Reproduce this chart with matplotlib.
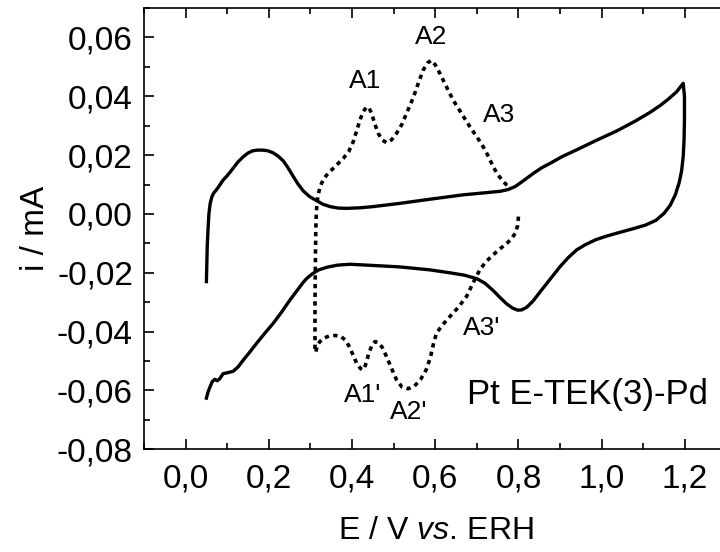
import numpy as np
import matplotlib
matplotlib.use('Agg')
import matplotlib.pyplot as plt
from matplotlib.ticker import FuncFormatter, MultipleLocator

plt.rcParams['font.family'] = ['Liberation Sans', 'DejaVu Sans']
plt.rcParams['mathtext.fontset'] = 'custom'
plt.rcParams['mathtext.rm'] = 'Liberation Sans'
plt.rcParams['mathtext.it'] = 'Liberation Sans:italic'

# Pt E-TEK baseline CV (solid), sweep 0.05 -> 1.2 -> 0.05 V
pt_E = [0.050, 0.051, 0.052, 0.054, 0.056, 0.059, 0.063, 0.068, 0.074, 0.082, 0.090, 0.100,
        0.114, 0.126, 0.139, 0.150, 0.160, 0.171, 0.185, 0.197, 0.210, 0.222, 0.235, 0.247,
        0.259, 0.270, 0.283, 0.298, 0.315, 0.330, 0.347, 0.367, 0.387, 0.420, 0.451, 0.515,
        0.587, 0.667, 0.720, 0.756, 0.775, 0.792, 0.812, 0.836, 0.856, 0.876, 0.905, 0.940,
        0.990, 1.036, 1.080, 1.116, 1.140, 1.160, 1.180, 1.196,
        1.199, 1.199, 1.198, 1.196, 1.192, 1.186, 1.177, 1.165, 1.150, 1.130, 1.105, 1.076,
        1.040, 1.010, 0.985, 0.960, 0.940, 0.920, 0.900, 0.876, 0.852, 0.835, 0.820, 0.808,
        0.798, 0.786, 0.772, 0.755, 0.739, 0.720, 0.700, 0.670, 0.635, 0.587, 0.515, 0.450,
        0.395, 0.365, 0.340, 0.320, 0.305, 0.292, 0.283, 0.268, 0.251, 0.231, 0.211, 0.190,
        0.171, 0.155, 0.139, 0.126, 0.114, 0.100, 0.090, 0.082, 0.076, 0.070, 0.064, 0.058,
        0.054, 0.050]
pt_i = [-0.0230, -0.0170, -0.0110, -0.0050, 0.0000, 0.0035, 0.0058, 0.0072, 0.0082, 0.0098,
        0.0115, 0.0130, 0.0155, 0.0177, 0.0195, 0.0207, 0.0214, 0.0217, 0.0217, 0.0215,
        0.0208, 0.0197, 0.0180, 0.0155, 0.0127, 0.0102, 0.0078, 0.0059, 0.0045, 0.0033,
        0.0025, 0.0020, 0.0019, 0.0021, 0.0025, 0.0036, 0.0050, 0.0065, 0.0072, 0.0077,
        0.0083, 0.0093, 0.0113, 0.0138, 0.0157, 0.0172, 0.0195, 0.0218, 0.0252, 0.0282,
        0.0315, 0.0345, 0.0368, 0.0390, 0.0415, 0.0444,
        0.0400, 0.0320, 0.0250, 0.0195, 0.0145, 0.0105, 0.0065, 0.0030, 0.0002, -0.0022,
        -0.0038, -0.0050, -0.0064, -0.0076, -0.0088, -0.0105, -0.0122, -0.0148, -0.0179,
        -0.0222, -0.0265, -0.0296, -0.0317, -0.0326, -0.0327, -0.0320, -0.0306, -0.0283,
        -0.0260, -0.0236, -0.0220, -0.0208, -0.0200, -0.0190, -0.0180, -0.0175, -0.0171,
        -0.0174, -0.0181, -0.0190, -0.0203, -0.0218, -0.0232, -0.0260, -0.0292, -0.0333,
        -0.0371, -0.0406, -0.0439, -0.0468, -0.0496, -0.0520, -0.0535, -0.0540, -0.0543,
        -0.0560, -0.0567, -0.0562, -0.0570, -0.0590, -0.0605, -0.0626]

# Pd deposit CV (dotted), 0.80 -> 0.31 -> 0.78 V
pd_E = [0.800, 0.798, 0.792, 0.783, 0.772, 0.756, 0.739, 0.722, 0.707, 0.690, 0.675, 0.655,
        0.635, 0.617, 0.603, 0.596, 0.588, 0.578, 0.565, 0.550, 0.535, 0.520, 0.507, 0.495,
        0.483, 0.472, 0.462, 0.455, 0.448, 0.440, 0.432, 0.426, 0.420, 0.411, 0.402, 0.395,
        0.385, 0.373, 0.360, 0.345, 0.332, 0.322, 0.316, 0.313, 0.311,
        0.311, 0.312, 0.313, 0.314, 0.316, 0.319, 0.324, 0.331, 0.339, 0.347, 0.362, 0.379,
        0.392, 0.403, 0.411, 0.419, 0.427, 0.435, 0.441, 0.447, 0.455, 0.463, 0.472, 0.483,
        0.495, 0.507, 0.520, 0.531, 0.547, 0.560, 0.571, 0.582, 0.591, 0.600, 0.611, 0.627,
        0.643, 0.663, 0.683, 0.700, 0.715, 0.728, 0.739, 0.750, 0.762, 0.772, 0.780]
pd_i = [-0.0009, -0.0040, -0.0066, -0.0085, -0.0100, -0.0118, -0.0139, -0.0162, -0.0190,
        -0.0237, -0.0281, -0.0318, -0.0349, -0.0378, -0.0405, -0.0440, -0.0490, -0.0530,
        -0.0562, -0.0585, -0.0594, -0.0588, -0.0564, -0.0525, -0.0485, -0.0452, -0.0436,
        -0.0434, -0.0445, -0.0475, -0.0515, -0.0530, -0.0525, -0.0507, -0.0478, -0.0455,
        -0.0430, -0.0416, -0.0413, -0.0415, -0.0422, -0.0435, -0.0450, -0.0468, -0.0470,
        -0.0300, -0.0150, -0.0050, 0.0000, 0.0040, 0.0068, 0.0095, 0.0117, 0.0132, 0.0144,
        0.0165, 0.0189, 0.0212, 0.0246, 0.0282, 0.0319, 0.0348, 0.0364, 0.0360, 0.0342,
        0.0305, 0.0274, 0.0252, 0.0242, 0.0252, 0.0274, 0.0305, 0.0342, 0.0395, 0.0447,
        0.0489, 0.0514, 0.0522, 0.0507, 0.0478, 0.0432, 0.0387, 0.0342, 0.0297, 0.0262,
        0.0229, 0.0195, 0.0161, 0.0135, 0.0112, 0.0098, 0.0088]

peak_labels = ['A1', 'A2', 'A3', "A1'", "A2'", "A3'"]
peak_E = [0.431, 0.591, 0.753, 0.426, 0.536, 0.711]
peak_i = [0.0452, 0.0600, 0.0336, -0.0615, -0.0674, -0.0387]

fig = plt.figure(figsize=(7.2, 5.52), dpi=100)
ax = fig.add_axes([0.2, 0.186, 0.809, 0.7995])

ax.plot(pt_E, pt_i, color='black', lw=2.4, solid_joinstyle='round')
ax.plot(pd_E, pd_i, color='black', lw=2.6, linestyle=(0, (1.2, 1.2)))

for lab, e, i in zip(peak_labels, peak_E, peak_i):
    ax.text(e, i, lab, fontsize=19, ha='center', va='center')
ax.text(0.967, -0.0615, 'Pt E-TEK(3)-Pd', fontsize=25, ha='center', va='center')

ax.set_xlim(-0.1, 1.3)
ax.set_ylim(-0.08, 0.07)
ax.xaxis.set_major_locator(MultipleLocator(0.2))
ax.xaxis.set_minor_locator(MultipleLocator(0.1))
ax.yaxis.set_major_locator(MultipleLocator(0.02))
ax.yaxis.set_minor_locator(MultipleLocator(0.01))
ax.xaxis.set_major_formatter(FuncFormatter(lambda v, p: f'{v:.1f}'.replace('.', ',').replace('-0,0', '0,0')))
ax.yaxis.set_major_formatter(FuncFormatter(lambda v, p: f'{v:.2f}'.replace('.', ',').replace('-0,00', '0,00')))
ax.tick_params(which='both', direction='in', top=True, right=False, width=1.2)
ax.tick_params(which='major', length=7, labelsize=24)
ax.tick_params(which='minor', length=4)
ax.tick_params(axis='x', which='major', pad=10)
ax.tick_params(axis='y', which='major', pad=8)
for s in ax.spines.values():
    s.set_linewidth(1.2)

fig.text(0.605, 0.0236, r'E / V $\it{vs.}\,$ERH', fontsize=23, ha='center', va='baseline')
ax.set_ylabel('i / mA', fontsize=24, labelpad=4)

fig.savefig('out.png', dpi=100)
